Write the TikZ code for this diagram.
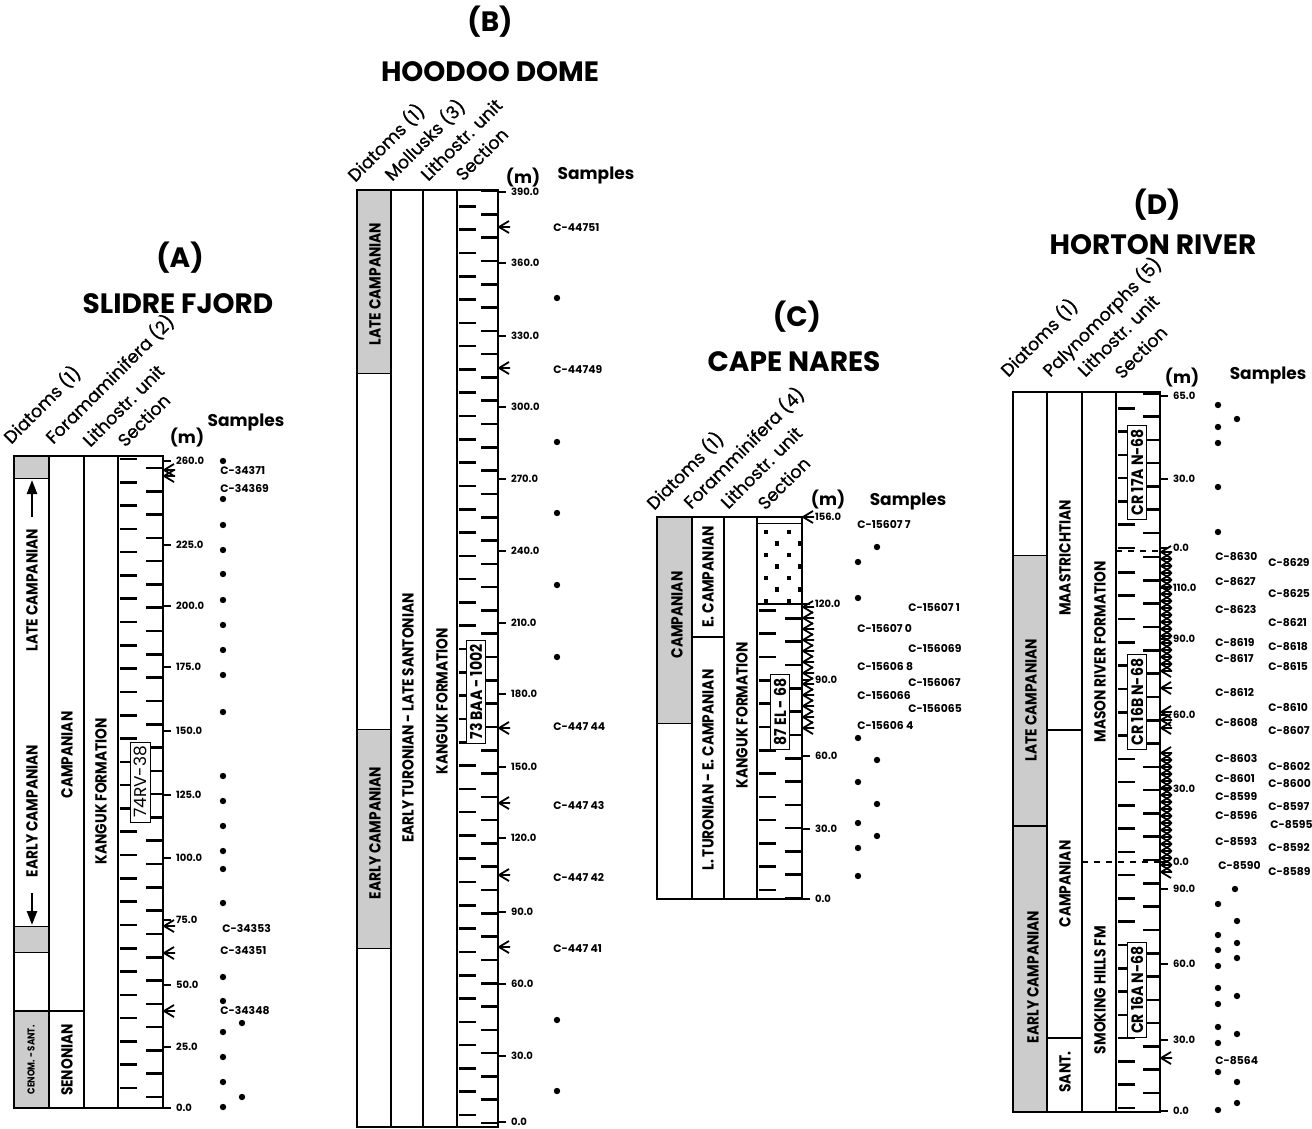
\documentclass[tikz,border=0pt]{standalone}
\usepackage{fontspec}
\setmainfont{Poppins}
\newfontfamily\hfont{Poppins}[FakeBold=0.7]
\newfontfamily\cfont{Poppins}[FakeStretch=0.86]
\usetikzlibrary{arrows.meta}

\newcommand\fs[1]{\fontsize{#1}{#1}\selectfont}
% sample marker pointing at the scale
\newcommand\hit[2]{\draw[line width=0.9pt] (#1+11,#2-6) -- (#1+1,#2) -- (#1+11,#2+6) (#1+1,#2) -- (#1+12,#2);}
% section ticks: left x, axis x, first left y, count, first right y, count
\newcommand\secticks[6]{%
  \foreach \j in {0,...,#4} {\draw[mk] (#1+2,#3-23.3*\j) -- (#1+19,#3-23.3*\j);}
  \foreach \j in {0,...,#6} {\draw[mk] (#2-17,#5-23.3*\j) -- (#2,#5-23.3*\j);}}

\tikzset{
  rule/.style={line width=1.1pt},
  mk/.style={line width=1.3pt},
  shade/.style={fill=black!20},
  hdr/.style={rotate=45, anchor=base west, inner sep=0pt, font=\hfont\fs{8.8}},
  unit/.style={rotate=90, inner sep=0pt, font=\cfont\fs{8}\bfseries},
  num/.style={anchor=west, inner sep=0pt, font=\fs{5}\bfseries},
  smp/.style={anchor=west, inner sep=0pt, font=\fs{5.4}\bfseries},
  secbox/.style={rotate=90, draw, fill=white, line width=0.4pt, inner xsep=2pt, inner ysep=1.8pt, font=\cfont\fs{8.2}\bfseries},
  ttl/.style={inner sep=0pt, font=\fs{14}\bfseries},
  colhead/.style={inner sep=0pt, font=\fs{8.5}\bfseries},
}

\begin{document}
\begin{tikzpicture}[x=0.5pt, y=-0.5pt]
\useasboundingbox (0,0) rectangle (1312,1129);

% ---------------- (A) SLIDRE FJORD
\node[ttl] (tA) at (180,258) {(A)};
\node[ttl] (nA) at (178,304) {SLIDRE FJORD};
\node[hdr] (hA1) at (11,445) {Diatoms (1)};
\node[hdr] (hA2) at (53,445) {Foramaminifera (2)};
\node[hdr] (hA3) at (90,448) {Lithostr. unit};
\node[hdr] (hA4) at (125,448) {Section};
\node[colhead] (mA) at (187,438) {(m)};
\node[colhead] (sA) at (246,422) {Samples};
\fill[shade] (14,456) rectangle (49,478);
\fill[shade] (14,926) rectangle (49,952);
\fill[shade] (14,1011) rectangle (49,1108);
\draw[thin] (14,478) -- (49,478) (14,926) -- (49,926) (14,952) -- (49,952);
\secticks{118}{163}{1088}{27}{1097}{27}
\draw[rule] (14,456) rectangle (163,1108);
\draw[rule] (49,456) -- (49,1108) (84,456) -- (84,1108) (118,456) -- (118,1108);
\draw[rule] (14,1011) -- (84,1011);
\draw[-{Triangle[length=7pt,width=5pt]}, line width=1.2pt] (32,517) -- (32,480);
\draw[-{Triangle[length=7pt,width=5pt]}, line width=1.2pt] (32,893) -- (32,925);
\node[unit] (uA1) at (32,590) {LATE CAMPANIAN};
\node[unit] (uA2) at (32,811) {EARLY CAMPANIAN};
\node[unit, font=\cfont\fs{5}\bfseries] (uA3) at (31,1060) {CENOM. - SANT.};
\node[unit] (uA4) at (67,755) {CAMPANIAN};
\node[unit] (uA5) at (67,1060) {SENONIAN};
\node[unit] (uA6) at (101,791) {KANGUK FORMATION};
\node[secbox, font=\fs{8.5}] (bxA) at (140,782) {74RV-38};
\foreach \v/\y [count=\i] in {260.0/461,225.0/545,200.0/606,175.0/667,150.0/731,125.0/795,100.0/858,75.0/920,50.0/985,25.0/1047,0.0/1108}
  {\draw[rule] (163,\y) -- (171,\y) node[num, xshift=2pt] (kA\i) {\v};}
\foreach \y in {470,476,926,953,1011} {\hit{163}{\y}}
\foreach \x/\y in {223/461,223/499,223/525,223/550,223/574,223/600,223/625,223/650,223/675,223/712,223/776,223/801,223/826,223/851,223/869,223/903,223/977,223/1001,223/1032,223/1057,223/1082,223/1107,242/1023,242/1097}
  {\fill (\x,\y) circle (1.6pt);}
\foreach \x/\y/\t [count=\i] in {220/470/C-34371,220/488/C-34369,222/928/C-34353,220/950/C-34351,220/1011/C-34348}
  {\node[smp] (cA\i) at (\x,\y) {\t};}

% ---------------- (B) HOODOO DOME
\node[ttl] (tB) at (490,22) {(B)};
\node[ttl] (nB) at (490,72) {HOODOO DOME};
\node[hdr] (hB1) at (355,183) {Diatoms (1)};
\node[hdr] (hB2) at (392,182) {Mollusks (3)};
\node[hdr] (hB3) at (428,182) {Lithostr. unit};
\node[hdr] (hB4) at (463,182) {Section};
\node[colhead] (mB) at (523,178) {(m)};
\node[colhead] (sB) at (596,175) {Samples};
\fill[shade] (357,190) rectangle (391,373);
\fill[shade] (357,729) rectangle (391,948);
\draw[thin] (357,373) -- (391,373) (357,729) -- (391,729) (357,948) -- (391,948);
\secticks{457}{498}{1115}{39}{1123}{40}
\draw[rule] (357,190) rectangle (498,1127);
\draw[rule] (391,190) -- (391,1127) (423,190) -- (423,1127) (457,190) -- (457,1127);
\node[unit] (uB1) at (375,284) {LATE CAMPANIAN};
\node[unit] (uB2) at (375,833) {EARLY CAMPANIAN};
\node[unit] (uB3) at (408,718) {EARLY TURONIAN - LATE SANTONIAN};
\node[unit] (uB4) at (442,701) {KANGUK FORMATION};
\node[secbox] (bxB) at (476,692) {73 BAA - 1002};
\foreach \v/\y [count=\i] in {390.0/192,360.0/263,330.0/336,300.0/407,270.0/479,240.0/551,210.0/623,180.0/694,150.0/767,120.0/838,90.0/912,60.0/984,30.0/1056,0.0/1122}
  {\draw[rule] (498,\y) -- (506,\y) node[num, xshift=2pt] (kB\i) {\v};}
\foreach \y in {227,368,728,803,875,947} {\hit{498}{\y}}
\foreach \x/\y in {557/298,557/442,557/513,557/585,557/657,557/1020,557/1091}
  {\fill (\x,\y) circle (1.6pt);}
\foreach \x/\y/\t [count=\i] in {553/228/C-44751,553/369/C-44749,553/727/C-447 44,553/805/C-447 43,553/877/C-447 42,553/949/C-447 41}
  {\node[smp] (cB\i) at (\x,\y) {\t};}

% ---------------- (C) CAPE NARES
\node[ttl] (tC) at (797,317) {(C)};
\node[ttl] (nC) at (794,362) {CAPE NARES};
\node[hdr] (hC1) at (654,511) {Diatoms (1)};
\node[hdr] (hC2) at (691,510) {Foramminifera (4)};
\node[hdr] (hC3) at (728,510) {Lithostr. unit};
\node[hdr] (hC4) at (765,511) {Section};
\node[colhead] (mC) at (828,500) {(m)};
\node[colhead] (sC) at (908,501) {Samples};
\fill[shade] (657,517) rectangle (692,723);
\draw[thin] (657,723) -- (692,723);
\secticks{757}{802}{890}{12}{898}{12}
\foreach \k in {0,...,6} {
  \foreach \j in {0,1} {
    \pgfmathsetmacro\xx{766+23*\j+(mod(\k,2)==1 ? 11 : 0)}
    \fill (\xx-2.3,532+11.5*\k-2.3) rectangle (\xx+2.3,532+11.5*\k+2.3);
  }}
\draw[thin] (757,523) -- (802,523);
\draw[rule] (757,604) -- (802,604);
\draw[rule] (657,517) rectangle (802,899);
\draw[rule] (692,517) -- (692,899) (724,517) -- (724,899) (757,517) -- (757,899);
\draw[rule] (692,637) -- (724,637);
\node[unit] (uC1) at (677,615) {CAMPANIAN};
\node[unit] (uC2) at (708,577) {E. CAMPANIAN};
\node[unit] (uC3) at (708,770) {L. TURONIAN - E. CAMPANIAN};
\node[unit] (uC4) at (742,715) {KANGUK FORMATION};
\node[secbox] (bxC) at (780,712) {87 EL - 68};
\foreach \v/\y [count=\i] in {156.0/517,120.0/604,90.0/680,60.0/756,30.0/829,0.0/899}
  {\draw[rule] (802,\y) -- (810,\y) node[num, xshift=2pt] (kC\i) {\v};}
\hit{802}{517}
\foreach \y in {607,618,...,728} {\hit{802}{\y}}
\foreach \x/\y in {877/547,858/562,858/598,858/738,877/760,858/782,877/804,858/823,877/836,858/848,858/876}
  {\fill (\x,\y) circle (1.6pt);}
\foreach \x/\y/\t [count=\i] in {857/525/C-15607 7,908/607/C-15607 1,857/628/C-15607 0,908/648/C-156069,857/667/C-15606 8,908/682/C-156067,857/695/C-156066,908/708/C-156065,857/725/C-15606 4}
  {\node[smp] (cC\i) at (\x,\y) {\t};}

% ---------------- (D) HORTON RIVER
\node[ttl] (tD) at (1157,205) {(D)};
\node[ttl] (nD) at (1153,245) {HORTON RIVER};
\node[hdr] (hD1) at (1008,378) {Diatoms (1)};
\node[hdr] (hD2) at (1050,378) {Palynomorphs (5)};
\node[hdr] (hD3) at (1085,378) {Lithostr. unit};
\node[hdr] (hD4) at (1122,380) {Section};
\node[colhead] (mD) at (1182,378) {(m)};
\node[colhead] (sD) at (1268,375) {Samples};
\fill[shade] (1013,555) rectangle (1047,1112);
\draw[thin] (1013,555) -- (1047,555);
\secticks{1116}{1160}{548}{6}{533}{6}
\secticks{1116}{1160}{852}{12}{860}{13}
\secticks{1116}{1160}{1108}{10}{1093}{9}
\draw[rule] (1013,392) rectangle (1160,1112);
\draw[rule] (1047,392) -- (1047,1112) (1082,392) -- (1082,1112) (1116,392) -- (1116,1112);
\draw[rule] (1013,826) -- (1047,826);
\draw[rule] (1047,730) -- (1082,730) (1047,1038) -- (1082,1038);
\draw[dashed, line width=1pt] (1116,551) -- (1160,551);
\draw[dashed, line width=1pt] (1082,862) -- (1160,862);
\node[unit] (uD1) at (1031,700) {LATE CAMPANIAN};
\node[unit] (uD2) at (1033,977) {EARLY CAMPANIAN};
\node[unit] (uD3) at (1065,558) {MAASTRICHTIAN};
\node[unit] (uD4) at (1065,884) {CAMPANIAN};
\node[unit] (uD5) at (1065,1072) {SANT.};
\node[unit] (uD6) at (1100,652) {MASON RIVER FORMATION};
\node[unit] (uD7) at (1100,990) {SMOKING HILLS FM};
\node[secbox] (bxD1) at (1137,472) {CR 17A N-68};
\node[secbox] (bxD2) at (1137,702) {CR 16B N-68};
\node[secbox] (bxD3) at (1137,990) {CR 16A N-68};
\foreach \v/\y [count=\i] in {65.0/396,30.0/479,0.0/548,110.0/588,90.0/639,60.0/715,30.0/789,0.0/862,90.0/889,60.0/964,30.0/1040,0.0/1111}
  {\draw[rule] (1160,\y) -- (1168,\y) node[num, xshift=2pt] (kD\i) {\v};}
\foreach \y in {552,559,...,671} {\hit{1160}{\y}}
\foreach \y in {688,712,720,728} {\hit{1160}{\y}}
\foreach \y in {753,760,...,872} {\hit{1160}{\y}}
\hit{1160}{1058}
\foreach \x/\y in {1218/405,1237/419,1218/427,1218/443,1218/487,1218/532,1235/889,1218/904,1237/921,1218/935,1237/943,1218/950,1237/958,1218/966,1218/988,1237/996,1218/1004,1218/1027,1237/1034,1218/1043,1218/1072,1237/1082,1237/1103,1218/1110}
  {\fill (\x,\y) circle (1.6pt);}
\foreach \x/\y/\t [count=\i] in {1215/557/C-8630,1215/582/C-8627,1215/610/C-8623,1215/643/C-8619,1215/659/C-8617,1215/693/C-8612,1215/723/C-8608,1215/759/C-8603,1215/779/C-8601,1215/797/C-8599,1215/816/C-8596,1215/842/C-8593,1218/866/C-8590,1215/1061/C-8564}
  {\node[smp] (dL\i) at (\x,\y) {\t};}
\foreach \x/\y/\t [count=\i] in {1268/563/C-8629,1268/594/C-8625,1268/623/C-8621,1268/647/C-8618,1268/667/C-8615,1268/708/C-8610,1268/731/C-8607,1268/767/C-8602,1268/784/C-8600,1268/807/C-8597,1270/825/C-8595,1268/848/C-8592,1268/872/C-8589}
  {\node[smp] (dR\i) at (\x,\y) {\t};}
\end{tikzpicture}
\end{document}
